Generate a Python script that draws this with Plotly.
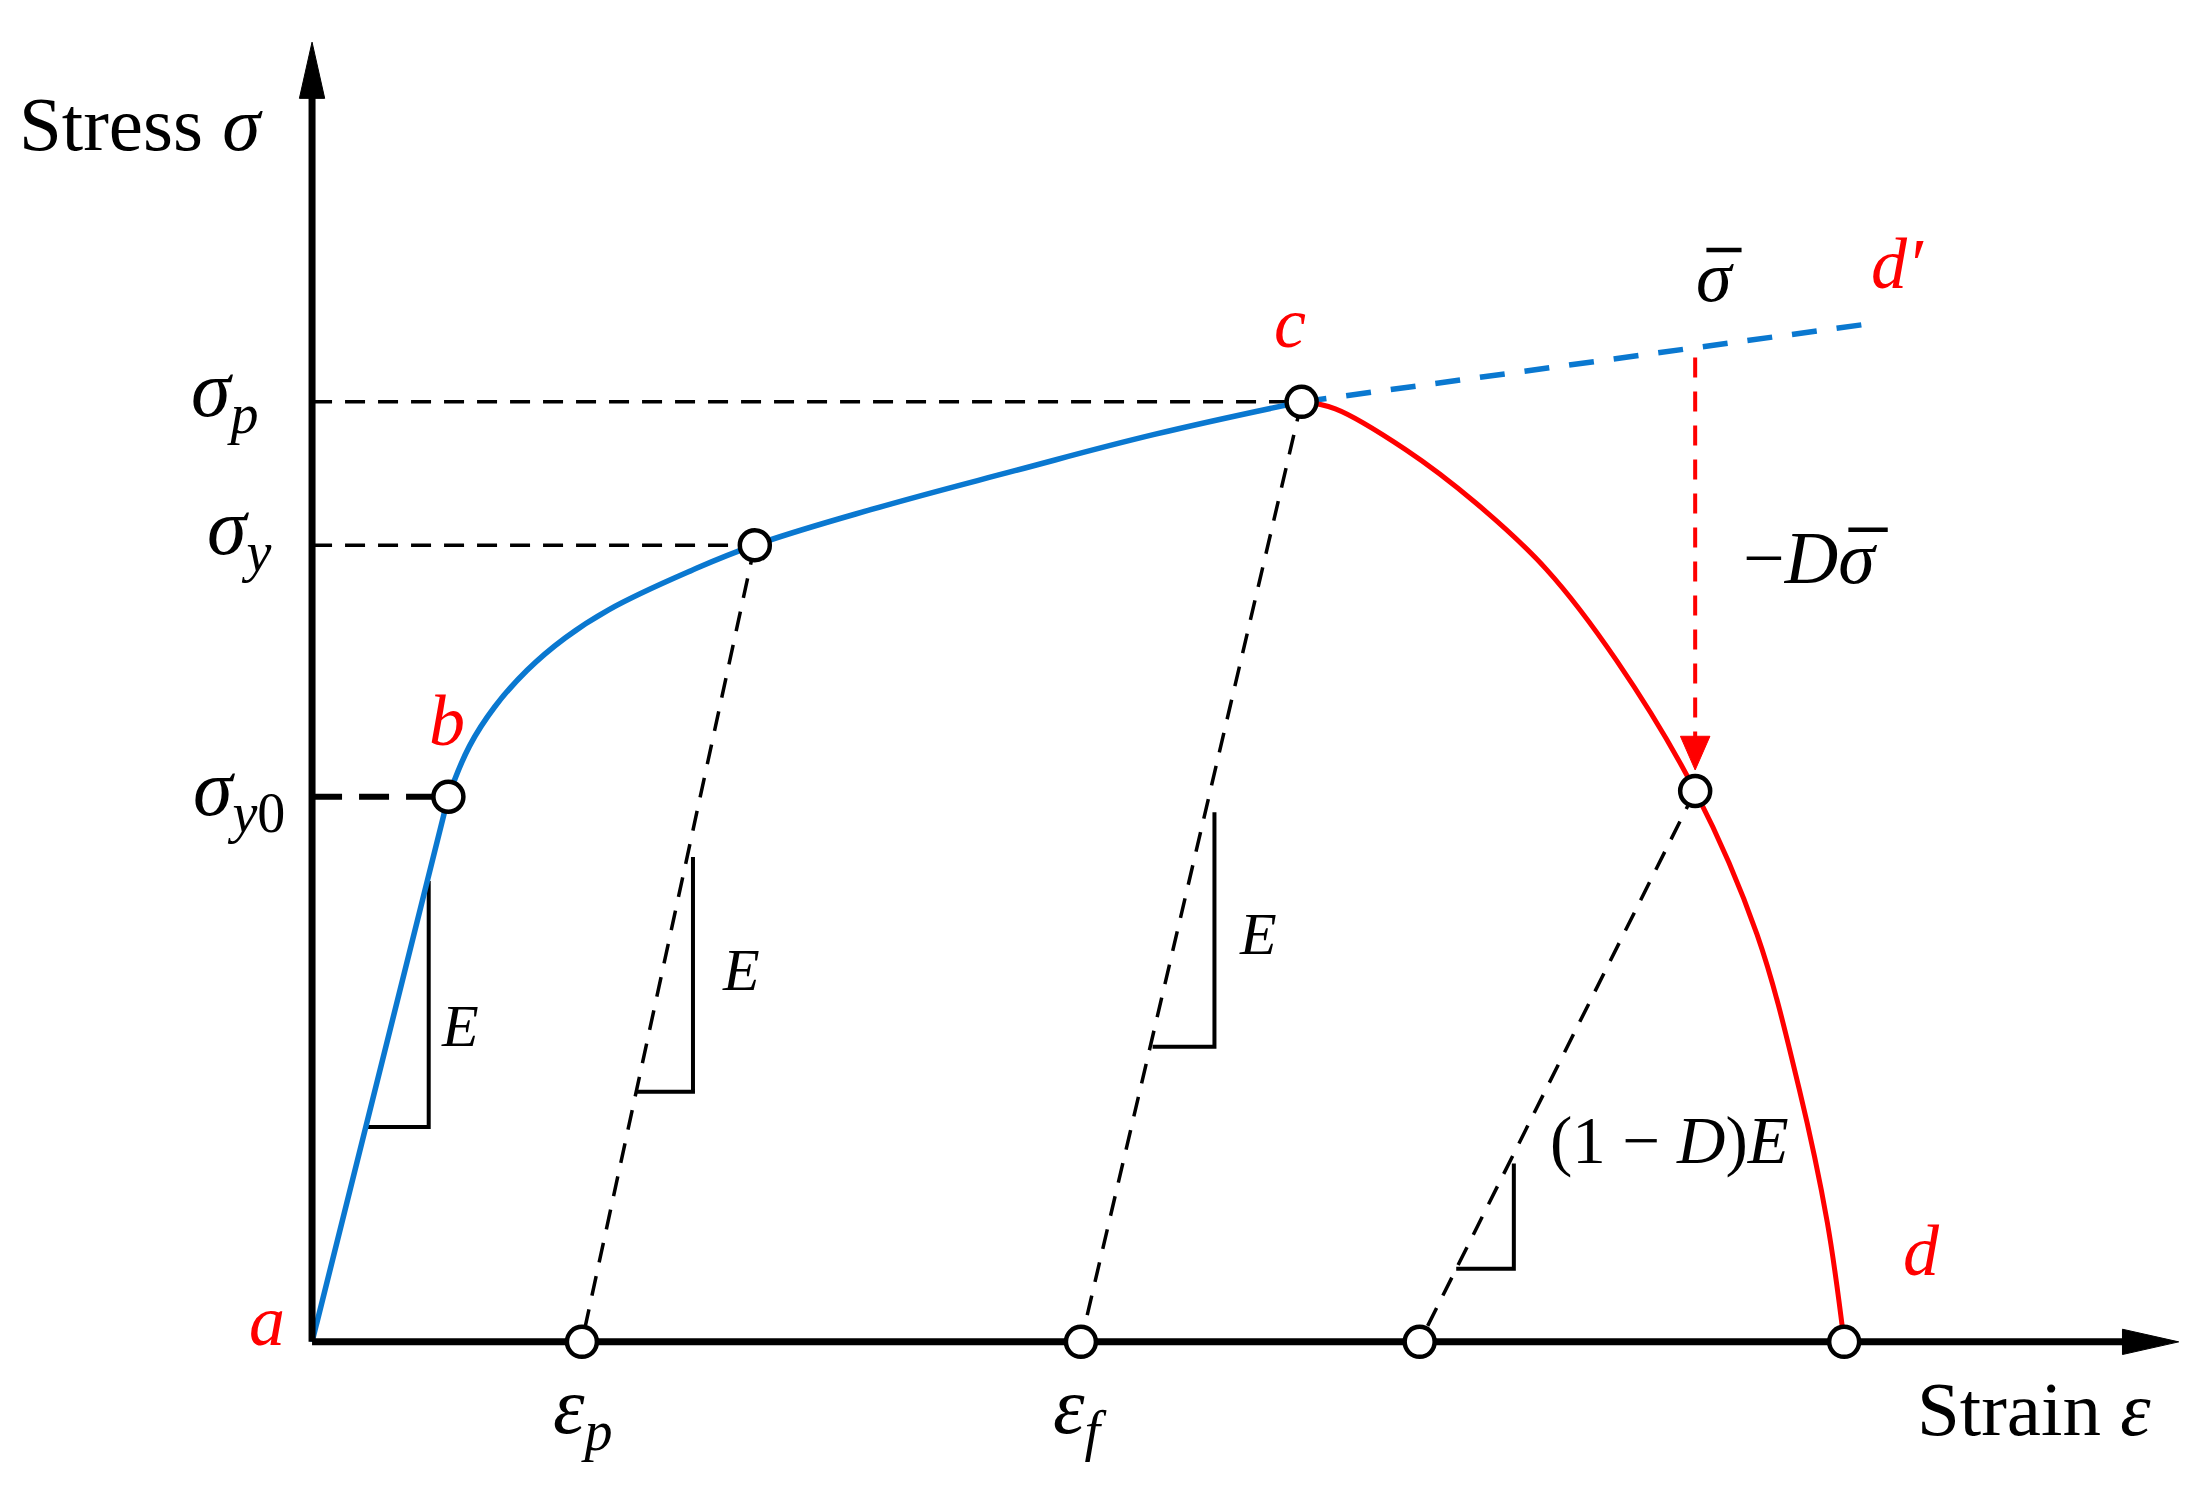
import plotly.graph_objects as go

# ---------------- data (schematic strain / stress units) ----------------
# elastic branch a -> b
elastic_strain = [0.0, 0.97]
elastic_stress = [0.0, 3.88]
# hardening branch b -> (yield point) -> c  (blue)
blue_strain = [0.97, 1.12, 1.30, 1.53, 1.80, 2.11, 2.70, 3.15, 4.00, 5.00, 6.00, 7.04]
blue_stress = [3.88, 4.24, 4.52, 4.78, 5.01, 5.21, 5.49, 5.67, 5.93, 6.20, 6.46, 6.69]
# softening curve c -> d (red)
red_strain = [7.04, 7.28, 7.78, 8.28, 8.78, 9.28, 9.84, 10.28, 10.58, 10.78, 10.90]
red_stress = [6.69, 6.64, 6.35, 5.97, 5.50, 4.85, 3.92, 2.90, 1.80, 0.85, 0.0]
# undamaged extension c -> d'
ext_strain = [7.04, 11.11]
ext_stress = [6.69, 7.25]

# key points
pt_b = (0.97, 3.88)
pt_y = (3.15, 5.67)
pt_c = (7.04, 6.69)
pt_dmg = (9.84, 3.92)
pt_d = (10.90, 0.0)
eps_p = 1.92
eps_f = 5.47
eps_r = 7.88

# stress levels
sig_y0 = 3.88
sig_y = 5.67
sig_p = 6.69

# slope triangles: [x_left, x_right, y_bottom, y_top]
triangles = [
    [0.38, 0.83, 1.53, 3.28],
    [2.30, 2.71, 1.78, 3.45],
    [5.98, 6.42, 2.10, 3.77],
    [8.14, 8.55, 0.52, 1.27],
]

# axis extents
x_axis_end = 13.28
y_axis_end = 9.25

BLUE = "#0a78d0"
RED = "#ff0000"
BLACK = "#000000"
SERIF = "Liberation Serif"

fig = go.Figure()

def line(x, y, color, width, dash=None, shape="linear", smoothing=1.0):
    fig.add_trace(go.Scatter(x=x, y=y, mode="lines", hoverinfo="skip",
                             line=dict(color=color, width=width, dash=dash, shape=shape,
                                       smoothing=smoothing)))

def polygon(x, y, color):
    fig.add_trace(go.Scatter(x=x, y=y, mode="lines", fill="toself", fillcolor=color,
                             hoverinfo="skip", line=dict(color=color, width=1)))

def arrowhead(tip, direction, length, half):
    dx, dy = direction
    bx, by = tip[0] - dx * length, tip[1] - dy * length
    px, py = -dy, dx
    xs = [tip[0], bx + px * half, bx - px * half, tip[0]]
    ys = [tip[1], by + py * half, by - py * half, tip[1]]
    return xs, ys

# horizontal reference dashed lines
line([0, pt_c[0]], [sig_p, sig_p], BLACK, 3.5, "20px,13px")
line([0, pt_y[0]], [sig_y, sig_y], BLACK, 3.5, "20px,13px")
line([0, pt_b[0]], [sig_y0, sig_y0], BLACK, 6, "30px,17px")

# unloading lines
line([pt_y[0], eps_p], [pt_y[1], 0], BLACK, 3.5, "20px,14px")
line([pt_c[0], eps_f], [pt_c[1], 0], BLACK, 3.5, "20px,14px")
line([pt_dmg[0], eps_r], [pt_dmg[1], 0], BLACK, 3.5, "20px,14px")

# slope triangles
for xl, xr, yb, yt in triangles:
    line([xl, xr, xr], [yb, yb, yt], BLACK, 4)

# extension (blue dashed)
line(ext_strain, ext_stress, BLUE, 5.5, "25px,20px")

# red damage arrow
slope_ext = (ext_stress[1] - ext_stress[0]) / (ext_strain[1] - ext_strain[0])
arrow_top = ext_stress[0] + slope_ext * (pt_dmg[0] - ext_strain[0])
arrow_tip = pt_dmg[1] + 0.15
line([pt_dmg[0], pt_dmg[0]], [arrow_top - 0.07, arrow_tip + 0.2], RED, 4, "20px,14px")
ax_, ay_ = arrowhead((pt_dmg[0], arrow_tip), (0, -1), 0.24, 0.105)
polygon(ax_, ay_, RED)

# curves
line(elastic_strain, elastic_stress, BLUE, 5.5)
line(blue_strain, blue_stress, BLUE, 5.5, shape="spline", smoothing=1.2)
line(red_strain, red_stress, RED, 5, shape="spline", smoothing=1.0)

# axes
line([0, x_axis_end - 0.3], [0, 0], BLACK, 7)
line([0, 0], [0, y_axis_end - 0.3], BLACK, 7)
hx, hy = arrowhead((x_axis_end, 0), (1, 0), 0.40, 0.09)
polygon(hx, hy, BLACK)
vx, vy = arrowhead((0, y_axis_end), (0, 1), 0.40, 0.09)
polygon(vx, vy, BLACK)

# circles
cx = [pt_b[0], pt_y[0], pt_c[0], pt_dmg[0], eps_p, eps_f, eps_r, pt_d[0]]
cy = [pt_b[1], pt_y[1], pt_c[1], pt_dmg[1], 0, 0, 0, pt_d[1]]
fig.add_trace(go.Scatter(x=cx, y=cy, mode="markers", hoverinfo="skip",
                         marker=dict(size=30, color="white", line=dict(color=BLACK, width=4.5))))

# ---------------- text ----------------
label_x = [-1.22, 12.25, -0.62, -0.52, -0.52, 1.93, 5.47,
           -0.32, 0.96, 6.96, 11.45, 11.28,
           9.98, 10.66, 1.05, 3.05, 6.73, 9.66]
label_y = [8.67, -0.48, 6.74, 5.76, 3.90, -0.50, -0.50,
           0.15, 4.42, 7.25, 0.65, 7.67,
           7.58, 5.58, 2.25, 2.65, 2.90, 1.43]
label_text = ["Stress <i>σ</i>", "Strain <i>ε</i>",
              "<i>σ</i><sub><i>p</i></sub>", "<i>σ</i><sub><i>y</i></sub>", "<i>σ</i><sub><i>y</i>0</sub>",
              "<i>ε</i><sub><i>p</i></sub>", "<i>ε</i><sub><i>f</i></sub>",
              "<i>a</i>", "<i>b</i>", "<i>c</i>", "<i>d</i>", "<i>d′</i>",
              "<i>σ</i>", "−<i>Dσ</i>",
              "<i>E</i>", "<i>E</i>", "<i>E</i>", "(1 − <i>D</i>)<i>E</i>"]
label_size = [77, 77, 80, 80, 80, 80, 80,
              72, 72, 72, 72, 72,
              72, 74, 60, 60, 60, 67]
label_color = [BLACK] * 7 + [RED] * 5 + [BLACK] * 6

for x, y, t, s, c in zip(label_x, label_y, label_text, label_size, label_color):
    fig.add_annotation(x=x, y=y, xref="x", yref="y", text=t, showarrow=False,
                       font=dict(family=SERIF, size=s, color=c),
                       xanchor="center", yanchor="middle")

# over-bars of σ̄ : [x0, x1, y]
overbars = [[9.92, 10.17, 7.77], [10.93, 11.21, 5.78]]
for x0, x1, yb in overbars:
    fig.add_shape(type="line", xref="x", yref="y", x0=x0, x1=x1, y0=yb, y1=yb,
                  line=dict(color=BLACK, width=4.5))

fig.update_layout(
    width=2204, height=1488,
    margin=dict(l=0, r=0, t=0, b=0),
    paper_bgcolor="white", plot_bgcolor="white",
    showlegend=False,
    xaxis=dict(range=[-2.22, 13.46], visible=False, fixedrange=True),
    yaxis=dict(range=[-1.04, 9.55], visible=False, fixedrange=True),
)

fig.write_html("out.html", config={"displayModeBar": False},
               post_script="document.body.style.margin='0';document.body.style.overflow='hidden';")
